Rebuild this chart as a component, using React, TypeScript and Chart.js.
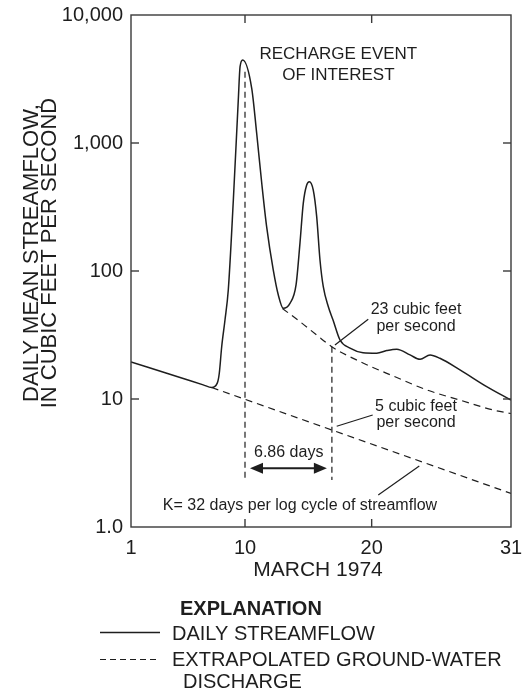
import React, { useEffect, useRef } from "react";
import { Chart, registerables } from "chart.js";

Chart.register(...registerables);

// ---------- data ----------
const xTickValues = [1, 10, 20, 31];
const xTickLabels = ["1", "10", "20", "31"];
const yTickValues = [1, 10, 100, 1000, 10000];
const yTickLabels = ["1.0", "10", "100", "1,000", "10,000"];

// Daily streamflow (day of March 1974, cubic feet per second)
const streamDays = [
  1.0, 5.0, 6.7, 7.37, 7.81, 7.97, 8.16, 8.42, 8.68, 9.08, 9.47, 9.61, 9.82, 10.53, 10.92,
  11.32, 11.71, 12.23, 12.63, 13.02, 13.55, 14.03, 14.34, 14.6, 14.87, 15.08, 15.39,
  15.66, 15.92, 16.18, 16.58, 16.95, 17.5, 18.29, 19.32, 20.4, 21.19, 21.98, 23.03,
  23.82, 24.61, 25.39, 26.97, 29.08, 31.0,
];
const streamFlow = [
  19.5, 14.6, 12.9, 12.3, 13.3, 15.9, 25.6, 41.4, 71, 359, 2168, 3945, 4450, 2675, 1197,
  487, 221, 102, 64.9, 51.1, 55.9, 77.8, 165, 338, 470, 499, 429, 266, 122, 75.4, 52.6,
  41.4, 28.9, 25.0, 23.0, 22.8, 23.9, 24.5, 22.1, 20.4, 22.1, 20.8, 16.9, 12.5, 9.8,
];

// Extrapolated ground-water discharge after the recharge event
const upperRecessionDays = [12.95, 14.34, 15.66, 16.85, 19.08, 21.71, 24.34, 26.97, 29.6, 31];
const upperRecessionFlow = [51.0, 40.2, 31.6, 25.6, 19.6, 15.1, 11.8, 9.8, 8.2, 7.7];

// Extrapolated ground-water discharge before the recharge event
const lowerRecessionDays = [7.37, 31];
const lowerRecessionFlow = [12.3, 1.83];

// Vertical reference lines (peak day and peak + 6.86 days)
const markerDays = [10, 16.86];
const markerTopFlow = [3600, 25.6];
const markerBottomFlow = [2.33, 2.33];

// Annotations (anchor in data space)
const rechargeText = ["RECHARGE EVENT", "OF INTEREST"];
const rechargeAnchor = { day: 17.37, flow: 4530 };
const label23Text = ["23 cubic feet", "per second"];
const label23Anchor = { day: 23.5, flow: 46.1 };
const leader23 = [{ day: 17.1, flow: 26.4 }, { day: 19.73, flow: 42 }];
const label5Text = ["5 cubic feet", "per second"];
const label5Anchor = { day: 23.5, flow: 8.06 };
const leader5 = [{ day: 17.24, flow: 6.12 }, { day: 20.08, flow: 7.5 }];
const kText = "K= 32 days per log cycle of streamflow";
const kAnchor = { day: 14.34, flow: 1.358 };
const leaderK = [{ day: 20.52, flow: 1.78 }, { day: 23.76, flow: 3.0 }];
const daysText = "6.86 days";
const daysAnchor = { day: 13.45, flow: 3.5 };
const arrowFlow = 2.875;

const xTitle = "MARCH 1974";
const yTitle = ["DAILY MEAN STREAMFLOW,", "IN CUBIC FEET PER SECOND"];
const legendTitle = "EXPLANATION";
const legendSolid = "DAILY STREAMFLOW";
const legendDashed = ["EXTRAPOLATED GROUND-WATER", "DISCHARGE"];

// ---------- styles ----------
const FONT = "'Liberation Sans', Arial, Helvetica, sans-serif";
const INK = "#1e1e1e";
const FRAME = "#3a3a3a";

const decorPlugin = {
  id: "decor",
  afterDraw(chart: any) {
    const { ctx, chartArea: a, scales } = chart;
    const xs = scales.x;
    const ys = scales.y;
    const px = (d: number) => xs.getPixelForValue(d);
    const py = (v: number) => ys.getPixelForValue(v);
    const seg = (x1: number, y1: number, x2: number, y2: number) => {
      ctx.beginPath();
      ctx.moveTo(x1, y1);
      ctx.lineTo(x2, y2);
      ctx.stroke();
    };
    ctx.save();
    // frame
    ctx.strokeStyle = FRAME;
    ctx.lineWidth = 1.4;
    ctx.setLineDash([]);
    ctx.strokeRect(a.left, a.top, a.right - a.left, a.bottom - a.top);
    // inward ticks
    xTickValues.slice(1, -1).forEach((v) => {
      const x = px(v);
      seg(x, a.bottom, x, a.bottom - 8);
      seg(x, a.top, x, a.top + 8);
    });
    yTickValues.slice(1, -1).forEach((v) => {
      const y = py(v);
      seg(a.left, y, a.left + 8, y);
      seg(a.right, y, a.right - 8, y);
    });

    ctx.fillStyle = INK;
    ctx.strokeStyle = INK;
    ctx.textBaseline = "alphabetic";

    // recharge title
    ctx.font = `17px ${FONT}`;
    ctx.textAlign = "center";
    rechargeText.forEach((t, i) =>
      ctx.fillText(t, px(rechargeAnchor.day), py(rechargeAnchor.flow) + i * 21)
    );

    // annotation labels
    ctx.font = `16px ${FONT}`;
    label23Text.forEach((t, i) =>
      ctx.fillText(t, px(label23Anchor.day), py(label23Anchor.flow) + i * 17)
    );
    label5Text.forEach((t, i) =>
      ctx.fillText(t, px(label5Anchor.day), py(label5Anchor.flow) + i * 16)
    );
    ctx.fillText(kText, px(kAnchor.day), py(kAnchor.flow));
    ctx.fillText(daysText, px(daysAnchor.day), py(daysAnchor.flow));

    // leaders
    ctx.lineWidth = 1.2;
    [leader23, leader5, leaderK].forEach((l) =>
      seg(px(l[0].day), py(l[0].flow), px(l[1].day), py(l[1].flow))
    );

    // double arrow
    const ay = py(arrowFlow);
    const ax1 = px(markerDays[0]) + 5;
    const ax2 = px(markerDays[1]) - 5;
    ctx.lineWidth = 2;
    seg(ax1 + 8, ay, ax2 - 8, ay);
    ctx.beginPath();
    ctx.moveTo(ax1, ay);
    ctx.lineTo(ax1 + 13, ay - 5.5);
    ctx.lineTo(ax1 + 13, ay + 5.5);
    ctx.closePath();
    ctx.fill();
    ctx.beginPath();
    ctx.moveTo(ax2, ay);
    ctx.lineTo(ax2 - 13, ay - 5.5);
    ctx.lineTo(ax2 - 13, ay + 5.5);
    ctx.closePath();
    ctx.fill();

    // x title
    ctx.font = `21px ${FONT}`;
    ctx.textAlign = "center";
    ctx.fillText(xTitle, (a.left + a.right) / 2 - 3, a.bottom + 49);

    // y title (rotated)
    ctx.font = `22px ${FONT}`;
    const yc = a.top + (a.bottom - a.top) * 0.465;
    [38, 56].forEach((bx, i) => {
      ctx.save();
      ctx.translate(bx, yc);
      ctx.rotate(-Math.PI / 2);
      ctx.textAlign = "center";
      ctx.fillText(yTitle[i], 0, 0);
      ctx.restore();
    });

    // legend
    const lx = 100;
    const tx = 172;
    const l0 = a.bottom + 88;
    ctx.textAlign = "left";
    ctx.font = `bold 20px ${FONT}`;
    ctx.fillText(legendTitle, 180, l0);
    ctx.font = `20px ${FONT}`;
    ctx.fillText(legendSolid, tx, l0 + 24.5);
    ctx.fillText(legendDashed[0], tx, l0 + 51);
    ctx.fillText(legendDashed[1], tx + 11, l0 + 73);
    ctx.lineWidth = 1.4;
    ctx.setLineDash([]);
    seg(lx, l0 + 17.5, lx + 60, l0 + 17.5);
    ctx.lineWidth = 1.2;
    ctx.setLineDash([6, 4]);
    seg(lx, l0 + 44.5, lx + 60, l0 + 44.5);
    ctx.restore();
  },
};

export default function App() {
  const ref = useRef<HTMLCanvasElement>(null);
  useEffect(() => {
    if (!ref.current) return;
    const pts = (xs: number[], ys: number[]) => xs.map((x, i) => ({ x, y: ys[i] }));
    const chart = new Chart(ref.current, {
      type: "line",
      data: {
        datasets: [
          {
            label: "Daily streamflow",
            data: pts(streamDays, streamFlow),
            borderColor: INK,
            borderWidth: 1.5,
            pointRadius: 0,
            cubicInterpolationMode: "monotone",
          },
          {
            label: "Extrapolated ground-water discharge (after)",
            data: pts(upperRecessionDays, upperRecessionFlow),
            borderColor: INK,
            borderWidth: 1.2,
            borderDash: [7, 5],
            pointRadius: 0,
            cubicInterpolationMode: "monotone",
          },
          {
            label: "Extrapolated ground-water discharge (before)",
            data: pts(lowerRecessionDays, lowerRecessionFlow),
            borderColor: INK,
            borderWidth: 1.2,
            borderDash: [7, 5],
            pointRadius: 0,
          },
          ...markerDays.map((d, i) => ({
            label: `marker ${i}`,
            data: [
              { x: d, y: markerTopFlow[i] },
              { x: d, y: markerBottomFlow[i] },
            ],
            borderColor: INK,
            borderWidth: 1.2,
            borderDash: [6, 4],
            pointRadius: 0,
          })),
        ],
      },
      options: {
        animation: false,
        responsive: false,
        events: [],
        layout: { padding: { top: 15, right: 11, left: 0, bottom: 0 } },
        plugins: {
          legend: { display: false },
          tooltip: { enabled: false },
          title: { display: false },
        },
        scales: {
          x: {
            type: "linear",
            min: 1,
            max: 31,
            grid: { display: false, drawTicks: false },
            border: { display: false },
            afterBuildTicks: (s: any) => {
              s.ticks = xTickValues.map((value) => ({ value }));
            },
            afterFit: (s: any) => {
              s.height = 162;
              s.paddingLeft = 0;
              s.paddingRight = 0;
            },
            ticks: {
              autoSkip: false,
              maxRotation: 0,
              padding: 9,
              color: INK,
              font: { family: FONT, size: 20 },
              callback: (_v: any, i: number) => xTickLabels[i],
            },
          },
          y: {
            type: "logarithmic",
            min: 1,
            max: 10000,
            grid: { display: false, drawTicks: false },
            border: { display: false },
            afterBuildTicks: (s: any) => {
              s.ticks = yTickValues.map((value) => ({ value }));
            },
            afterFit: (s: any) => {
              s.width = 131;
              s.paddingTop = 0;
              s.paddingBottom = 0;
            },
            ticks: {
              autoSkip: false,
              padding: 8,
              color: INK,
              font: { family: FONT, size: 20 },
              callback: (_v: any, i: number) => yTickLabels[i],
            },
          },
        },
      },
      plugins: [decorPlugin],
    } as any);
    return () => chart.destroy();
  }, []);
  return (
    <div style={{ position: "absolute", left: 0, top: 0, width: 522, height: 689, background: "#fff" }}>
      <canvas ref={ref} width={522} height={689} style={{ display: "block" }} />
    </div>
  );
}
